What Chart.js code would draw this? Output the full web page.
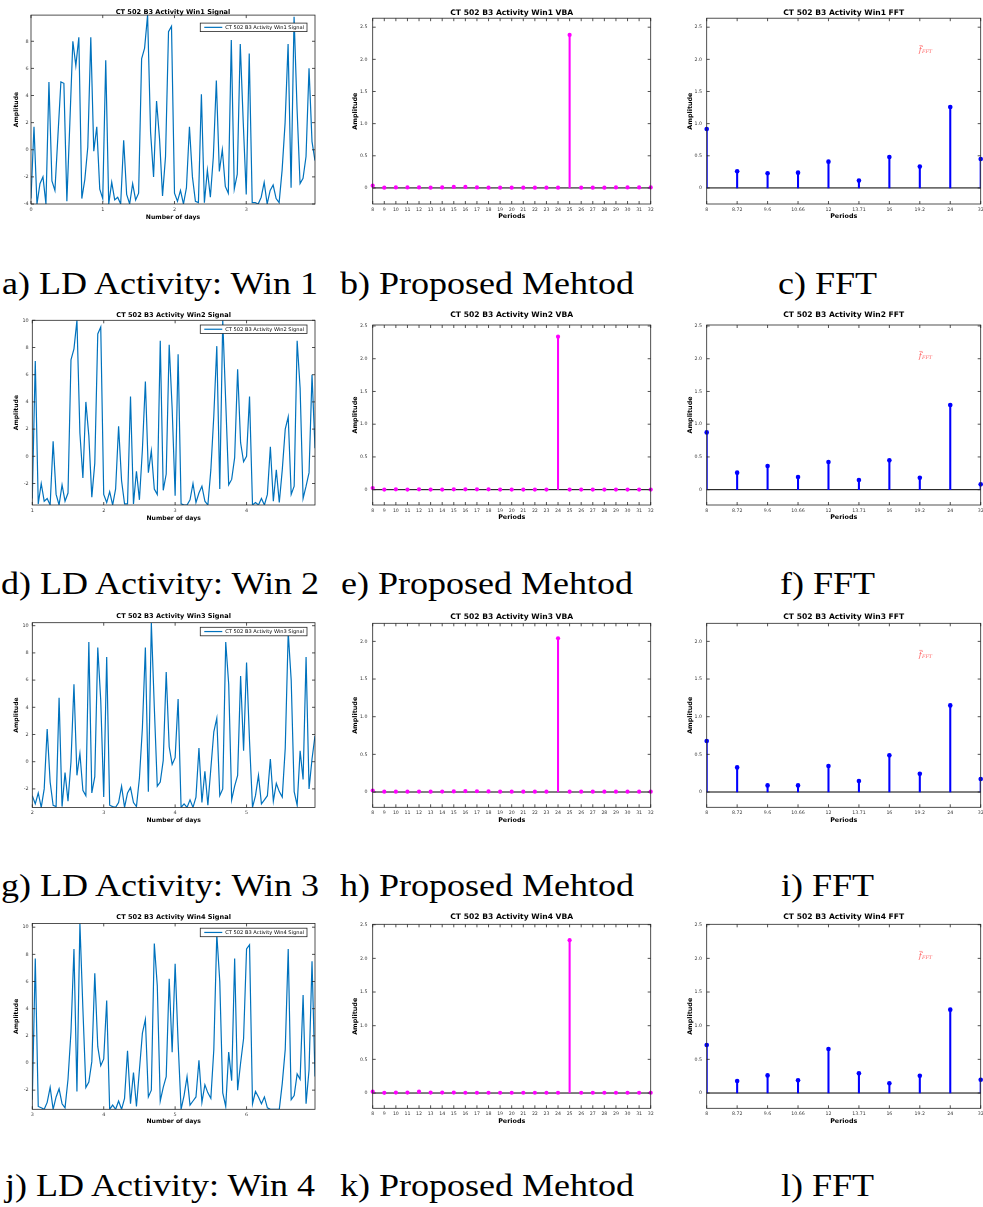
<!DOCTYPE html>
<html>
<head>
<meta charset="utf-8">
<script src="https://cdn.jsdelivr.net/npm/chart.js@4.4.1/dist/chart.umd.min.js"></script>
<style>
  html, body { margin: 0; padding: 0; background: #fff; width: 983px; height: 1207px; overflow: hidden; }
  canvas { position: absolute; }
  .cap { position: absolute; white-space: nowrap; font-family: "Liberation Serif", "Times New Roman", serif;
         font-size: 32px; line-height: 32px; color: #000; transform-origin: 0 0; }
</style>
</head>
<body>
<script>
// ---------------- data ----------------
const windowNames = ['Win1', 'Win2', 'Win3', 'Win4'];
const windowStartDay = [0, 1, 2, 3];
const samplesPerDay = 24;

// hourly LD activity, one array per 4-day window
const signalWin1 = [
  -3.6, 1.7, -4.0, -2.5, -2.0, -4.0, 5.0, -2.3, -3.0, 1.0,
  5.0, 4.9, -3.8, 2.0, 8.0, 6.2, 8.3, -3.6, -2.2, 0.2,
  8.3, -0.1, 1.7, -2.9, -3.6, 6.6, -4.0, -2.4, -3.7, -3.5,
  -4.0, 0.7, -3.3, -4.0, -2.5, -3.7, -3.2, 6.7, 7.5, 9.93,
  1.3, -2.0, 3.6, 0.8, -3.4, -0.5, 8.7, 9.1, -3.2, -3.8,
  -3.0, -4.0, -2.8, 1.7, -2.0, -3.8, -3.9, 4.1, -3.9, -1.5,
  -3.5, -0.5, 5.1, -1.6, 0.0, -2.7, -3.2, 8.1, -2.9, -1.8,
  7.8, 2.0, -3.3, 7.1, -3.9, -3.9, -4.0, -3.5, -2.4, -4.0,
  -3.0, -2.6, -3.6, -3.9, -1.5, 2.0, 7.8, -2.8, 9.8, 3.0,
  -2.5, -2.1, -0.5, 6.0, 0.6, -0.8
];
const signalWin2 = [
  -3.1, 7.0, -3.5, -2.0, -3.3, -3.1, -3.58, 1.1, -2.8, -3.58,
  -2.1, -3.3, -2.7, 7.1, 7.9, 10.0, 1.7, -1.6, 4.0, 1.5,
  -3.0, -0.5, 9.0, 9.5, -2.8, -3.4, -2.6, -3.58, -2.4, 2.2,
  -1.8, -3.5, -3.5, 4.4, -3.5, -1.1, -3.2, 0.5, 5.5, -1.2,
  0.4, -2.4, -2.8, 8.5, -2.5, -1.3, 8.2, 3.5, -2.9, 7.5,
  -3.5, -3.58, -3.58, -3.2, -2.0, -3.4, -2.7, -2.2, -3.3, -3.58,
  -1.0, 3.0, 8.1, -2.4, 10.0, 4.0, -2.1, -1.7, -0.1, 6.4,
  1.0, -0.4, 0.0, 4.4, -3.58, -3.4, -3.58, -3.1, -3.58, -2.8,
  0.7, -3.3, -1.0, -3.4, -1.0, 2.0, 2.9, -2.8, -2.2, 8.5,
  5.0, -3.1, -2.2, -1.2, 6.0, 0.6
];
const signalWin3 = [
  -2.5, -3.1, -2.3, -3.36, -2.0, 2.4, -1.5, -3.2, -3.3, 4.7,
  -3.3, -0.8, -2.9, 0.0, 5.7, -1.0, 0.6, -2.1, -2.5, 8.8,
  -2.3, -1.1, 8.4, 4.5, -2.6, 7.7, -3.2, -3.3, -3.36, -3.0,
  -1.8, -3.36, -2.3, -1.9, -3.0, -3.3, -1.2, 2.5, 8.4, -2.2,
  10.22, 4.0, -1.8, -1.5, 0.1, 6.6, 1.1, -0.2, 0.3, 4.6,
  -3.36, -3.1, -3.36, -2.8, -3.36, -2.6, 1.0, -3.0, -0.7, -3.2,
  -0.5, 2.2, 3.2, -2.5, -2.0, 8.8, 5.7, -2.8, -1.8, -1.0,
  6.3, 0.8, 7.3, 1.5, -3.36, -2.5, -1.0, -3.1, -2.8, -2.5,
  0.2, -2.9, -1.6, -2.2, -2.6, 1.0, 9.5, 6.0, -2.2, -3.2,
  0.8, -1.3, 7.7, -2.0, 0.2, 1.9
];
const signalWin4 = [
  -2.7, 7.7, -3.2, -3.3, -3.41, -2.9, -1.8, -3.41, -2.5, -1.9,
  -3.0, -3.3, -1.2, 2.3, 8.4, -2.1, 10.28, 4.0, -1.8, -1.4,
  0.1, 6.6, 1.2, -0.2, 0.3, 4.6, -3.41, -3.1, -3.41, -2.8,
  -3.41, -2.6, 0.9, -3.0, -0.7, -3.2, -0.5, 2.2, 3.2, -2.5,
  -2.0, 8.8, 5.7, -2.8, -1.8, -1.0, 6.2, 0.8, 7.3, 1.5,
  -3.41, -2.4, -1.0, -3.1, -2.8, -2.5, 0.2, -2.9, -1.6, -2.2,
  -2.6, 1.0, 9.5, 6.0, -2.2, -3.2, 0.8, -1.3, 7.7, -2.0,
  0.0, 1.8, 8.4, 8.7, -3.0, -2.1, -2.5, -3.0, -2.5, -3.3,
  -3.41, -3.41, -3.41, -3.41, -1.5, 1.0, 8.4, -2.7, -2.4, -0.8,
  -1.2, 5.0, -3.0, -0.5, 7.5, -1.0
];

// VBA amplitude per candidate period (hours)
const vbaPeriods = [8, 9, 10, 11, 12, 13, 14, 15, 16, 17, 18, 19, 20, 21, 22, 23, 24, 25, 26, 27, 28, 29, 30, 31, 32];
const vbaWin1 = [0.035, 0.004, 0.008, 0.008, 0.008, 0.004, 0.008, 0.015, 0.015, 0.008, 0.004, 0.004, 0.004,
                 0.004, 0.004, 0.004, 0.004, 2.38, 0.004, 0.004, 0.004, 0.008, 0.008, 0.008, 0.008];
const vbaWin2 = [0.025, 0.002, 0.005, 0.002, 0.005, 0.002, 0.002, 0.005, 0.006, 0.006, 0.006, 0.002, 0.002,
                 0.002, 0.002, 0.002, 2.336, 0.002, 0.002, 0.002, 0.002, 0.002, 0.002, 0.002, 0.002];
const vbaWin3 = [0.02, 0.004, 0.005, 0.004, 0.006, 0.004, 0.006, 0.008, 0.012, 0.01, 0.008, 0.004, 0.004,
                 0.004, 0.004, 0.004, 2.04, 0.004, 0.004, 0.004, 0.004, 0.004, 0.004, 0.004, 0.004];
const vbaWin4 = [0.02, 0.003, 0.006, 0.006, 0.02, 0.006, 0.006, 0.006, 0.004, 0.004, 0.004, 0.004, 0.004,
                 0.004, 0.004, 0.004, 0.004, 2.27, 0.004, 0.004, 0.004, 0.004, 0.004, 0.004, 0.004];

// FFT amplitude at the DFT bin periods (hours)
const fftPeriods = ['8', '8.72', '9.6', '10.66', '12', '13.71', '16', '19.2', '24', '32'];
const fftWin1 = [0.917, 0.259, 0.228, 0.238, 0.409, 0.114, 0.482, 0.332, 1.259, 0.45];
const fftWin2 = [0.875, 0.26, 0.361, 0.193, 0.422, 0.148, 0.448, 0.183, 1.293, 0.081];
const fftWin3 = [0.677, 0.327, 0.088, 0.088, 0.345, 0.146, 0.487, 0.243, 1.15, 0.173];
const fftWin4 = [0.713, 0.178, 0.262, 0.188, 0.653, 0.292, 0.144, 0.257, 1.238, 0.198];

// shared amplitude axis limits of the VBA / FFT panels in each row
const ampLimits = [[-0.25, 2.64], [-0.234, 2.515], [-0.203, 2.24], [-0.227, 2.506]];

const captionText = [
  'a) LD Activity: Win 1', 'b) Proposed Mehtod', 'c) FFT',
  'd) LD Activity: Win 2', 'e) Proposed Mehtod', 'f) FFT',
  'g) LD Activity: Win 3', 'h) Proposed Mehtod', 'i) FFT',
  'j) LD Activity: Win 4', 'k) Proposed Mehtod', 'l) FFT'
];

// ---------------- page layout (px) ----------------
const signals = [signalWin1, signalWin2, signalWin3, signalWin4];
const vbas = [vbaWin1, vbaWin2, vbaWin3, vbaWin4];
const ffts = [fftWin1, fftWin2, fftWin3, fftWin4];

const FONT = '"DejaVu Sans", "Liberation Sans", sans-serif';
const TICK_COLOR = '#3a3a3a';
const SIGNAL_BLUE = '#0072BD';
const VBA_MAGENTA = '#FF00FF';
const FFT_BLUE = '#0000FF';

const sigRows = [
  { top: 0,   T: 15.1,  B: 204,    L: 31,   titleY: 12.3,  tickY: 210,   xlabY: 217.3,  legDy: 8 },
  { top: 305, T: 320.3, B: 505,    L: 32.3, titleY: 315.2, tickY: 511,   xlabY: 518.3,  legDy: 4.7 },
  { top: 605, T: 622.7, B: 807.4,  L: 32.3, titleY: 616.5, tickY: 812.8, xlabY: 820,    legDy: 4.6 },
  { top: 905, T: 923.4, B: 1109.3, L: 32.3, titleY: 917,   tickY: 1115,  xlabY: 1121.8, legDy: 4.8 }
];
const stemRows = [
  { top: 0,   T: 18.2,  B: 204,    titleY: 13.3,  tickY: 209.3, xlabY: 216.7 },
  { top: 305, T: 325,   B: 505,    titleY: 315,   tickY: 511,   xlabY: 517.7 },
  { top: 605, T: 623.3, B: 807.3,  titleY: 616.7, tickY: 812.7, xlabY: 820 },
  { top: 905, T: 924.3, B: 1108.3, titleY: 917.3, tickY: 1114,  xlabY: 1121.7 }
];
const sigCol = { x: 0,   w: 330, R: 315,   yTickX: 28.6,  ylabX: 16.7 };
const vbaCol = { x: 340, w: 320, L: 372.7, R: 650.7, yTickX: 367.5, ylabX: 355.3 };
const fftCol = { x: 676, w: 307, L: 706.7, R: 982.3, yTickX: 702,   ylabX: 690 };

const sigFont = { title: 6.6, label: 6.1, tick: 4.9, legend: 5.1 };
const stemFont = { title: 7.6, label: 6.4, tick: 4.7 };

const captionCenterX = [160, 487, 828];
const captionCenterY = [283, 583, 885, 1185];
const captionRefWidth = 316;

// ---------------- plugins ----------------
// MATLAB-style box with inward tick marks on all four sides
const boxFrame = {
  id: 'boxFrame',
  afterDatasetsDraw(chart) {
    const { ctx, chartArea: a, scales: { x, y } } = chart;
    const t = 3;
    ctx.save();
    ctx.strokeStyle = '#262626';
    ctx.lineWidth = 0.8;
    ctx.strokeRect(a.left, a.top, a.right - a.left, a.bottom - a.top);
    ctx.beginPath();
    x.ticks.forEach((tk, i) => {
      const px = x.getPixelForTick(i);
      ctx.moveTo(px, a.bottom); ctx.lineTo(px, a.bottom - t);
      ctx.moveTo(px, a.top); ctx.lineTo(px, a.top + t);
    });
    y.ticks.forEach((tk, i) => {
      const py = y.getPixelForTick(i);
      ctx.moveTo(a.left, py); ctx.lineTo(a.left + t, py);
      ctx.moveTo(a.right, py); ctx.lineTo(a.right - t, py);
    });
    ctx.stroke();
    ctx.restore();
  }
};

// stem baseline at zero amplitude
const stemBaseline = {
  id: 'stemBaseline',
  beforeDatasetsDraw(chart) {
    const { ctx, chartArea: a, scales: { y } } = chart;
    const py = y.getPixelForValue(0);
    ctx.save();
    ctx.strokeStyle = '#000';
    ctx.lineWidth = 1;
    ctx.beginPath();
    ctx.moveTo(a.left, py); ctx.lineTo(a.right, py);
    ctx.stroke();
    ctx.restore();
  }
};

// boxed legend in the upper right corner of the signal panels
const signalLegend = {
  id: 'signalLegend',
  afterDraw(chart, args, o) {
    const ds = chart.data.datasets[0];
    const { ctx, chartArea: a } = chart;
    ctx.save();
    ctx.font = `${o.size}px ${FONT}`;
    const tw = ctx.measureText(ds.label).width;
    const h = 8.5, sample = 18, gap = 3, padL = 4, padR = 3;
    const w = padL + sample + gap + tw + padR;
    const x0 = a.right - 8 - w, y0 = a.top + o.dy;
    ctx.fillStyle = '#fff';
    ctx.fillRect(x0, y0, w, h);
    ctx.strokeStyle = '#262626';
    ctx.lineWidth = 0.8;
    ctx.strokeRect(x0, y0, w, h);
    ctx.strokeStyle = ds.borderColor;
    ctx.lineWidth = ds.borderWidth;
    ctx.beginPath();
    ctx.moveTo(x0 + padL, y0 + h / 2); ctx.lineTo(x0 + padL + sample, y0 + h / 2);
    ctx.stroke();
    ctx.fillStyle = '#000';
    ctx.textBaseline = 'middle';
    ctx.fillText(ds.label, x0 + padL + sample + gap, y0 + h / 2 + 0.3);
    ctx.restore();
  }
};

// red f_FFT annotation of the FFT panels
const fftNote = {
  id: 'fftNote',
  afterDatasetsDraw(chart, args, o) {
    const { ctx, chartArea: a, scales: { x } } = chart;
    const px = x.getPixelForValue(o.at) - 1;
    const py = a.top + o.frac * (a.bottom - a.top);
    ctx.save();
    ctx.fillStyle = o.color;
    ctx.strokeStyle = o.color;
    ctx.textBaseline = 'middle';
    ctx.font = `italic ${o.size}px "DejaVu Serif", serif`;
    ctx.fillText('f', px, py);
    const fw = ctx.measureText('f').width;
    ctx.lineWidth = 0.6;
    ctx.beginPath();
    ctx.moveTo(px + 0.5, py - o.size * 0.52); ctx.lineTo(px + fw + 0.8, py - o.size * 0.52);
    ctx.stroke();
    ctx.font = `italic ${o.size * 0.62}px "DejaVu Serif", serif`;
    ctx.fillText('FFT', px + fw + 0.2, py + o.size * 0.22);
    ctx.restore();
  }
};

// ---------------- chart helpers ----------------
function makeCanvas(box) {
  const c = document.createElement('canvas');
  c.width = box.w; c.height = box.h;
  c.style.left = box.x + 'px'; c.style.top = box.y + 'px';
  c.style.width = box.w + 'px'; c.style.height = box.h + 'px';
  document.body.appendChild(c);
  return c;
}

function panelOptions(box, g, f, title, xTitle) {
  const noGrid = { display: false, drawTicks: false, tickLength: 0 };
  return {
    responsive: false, maintainAspectRatio: false, animation: false, events: [],
    devicePixelRatio: 1,
    layout: { padding: { left: 0, top: 0, bottom: 0, right: box.x + box.w - g.R } },
    plugins: {
      legend: { display: false },
      tooltip: { enabled: false },
      title: {
        display: true, text: title, fullSize: false, color: '#000',
        font: { family: FONT, size: f.title, weight: 'bold', lineHeight: 1 },
        padding: { top: g.titleY - box.y - f.title / 2, bottom: g.T - g.titleY - f.title / 2 }
      }
    },
    scales: {
      x: {
        grid: Object.assign({}, noGrid), border: { display: false },
        ticks: { color: TICK_COLOR, font: { family: FONT, size: f.tick, lineHeight: 1 },
                 padding: g.tickY - g.B - f.tick / 2, maxRotation: 0, minRotation: 0, autoSkip: false },
        title: { display: true, text: xTitle, color: '#000',
                 font: { family: FONT, size: f.label, weight: 'bold', lineHeight: 1 },
                 padding: { top: 0, bottom: box.y + box.h - g.xlabY - f.label / 2 } },
        afterFit(s) { s.height = box.y + box.h - g.B; s.paddingLeft = 0; s.paddingRight = 0; }
      },
      y: {
        grid: Object.assign({}, noGrid), border: { display: false },
        ticks: { color: TICK_COLOR, font: { family: FONT, size: f.tick, lineHeight: 1 },
                 padding: g.L - g.yTickX },
        title: { display: true, text: 'Amplitude', color: '#000',
                 font: { family: FONT, size: f.label, weight: 'bold', lineHeight: 1 },
                 padding: { top: g.ylabX - box.x - f.label / 2, bottom: 0 } },
        afterFit(s) { s.width = g.L - box.x; s.paddingTop = 0; s.paddingBottom = 0; }
      }
    }
  };
}

function signalChart(r) {
  const row = sigRows[r];
  const values = signals[r];
  const start = windowStartDay[r];
  const box = { x: sigCol.x, y: row.top, w: sigCol.w, h: Math.round(row.xlabY + 6.5 - row.top) };
  const g = Object.assign({}, sigCol, row);
  const opts = panelOptions(box, g, sigFont, `CT 502 B3 Activity ${windowNames[r]} Signal`, 'Number of days');
  const points = values.map((v, i) => ({ x: start + i / samplesPerDay, y: v }));
  Object.assign(opts.scales.x, {
    type: 'linear', min: start, max: start + (values.length - 1) / samplesPerDay
  });
  opts.scales.x.ticks.stepSize = 1;
  opts.scales.x.ticks.includeBounds = false;
  Object.assign(opts.scales.y, { type: 'linear', min: Math.min(...values), max: Math.max(...values) });
  opts.scales.y.ticks.stepSize = 2;
  opts.scales.y.ticks.includeBounds = false;
  opts.plugins.signalLegend = { size: sigFont.legend, dy: row.legDy };
  new Chart(makeCanvas(box), {
    type: 'line',
    data: { datasets: [{
      label: `CT 502 B3 Activity ${windowNames[r]} Signal`,
      data: points, borderColor: SIGNAL_BLUE, borderWidth: 1.2,
      pointRadius: 0, tension: 0, fill: false
    }] },
    options: opts,
    plugins: [boxFrame, signalLegend]
  });
}

function stemChart(r, col, labels, values, color, title, radius, withNote) {
  const row = stemRows[r];
  const box = { x: col.x, y: row.top, w: col.w, h: Math.round(row.xlabY + 6.5 - row.top) };
  const g = Object.assign({}, col, row);
  const opts = panelOptions(box, g, stemFont, title, 'Periods');
  Object.assign(opts.scales.x, { type: 'category', offset: false });
  Object.assign(opts.scales.y, { type: 'linear', min: ampLimits[r][0], max: ampLimits[r][1] });
  opts.scales.y.ticks.stepSize = 0.5;
  opts.scales.y.ticks.includeBounds = false;
  const plugins = [stemBaseline, boxFrame];
  if (withNote) {
    opts.plugins.fftNote = { at: 7, frac: 0.17, size: 8, color: '#ff6464' };
    plugins.push(fftNote);
  }
  new Chart(makeCanvas(box), {
    type: 'bar',
    data: {
      labels: labels,
      datasets: [
        { type: 'line', data: values, showLine: false, pointRadius: radius, pointHoverRadius: radius,
          pointBackgroundColor: color, pointBorderWidth: 0, clip: false, order: 0 },
        { type: 'bar', data: values, backgroundColor: color, barThickness: 1.4, order: 1 }
      ]
    },
    options: opts,
    plugins: plugins
  });
}

// ---------------- build ----------------
for (let r = 0; r < 4; r++) {
  signalChart(r);
  stemChart(r, vbaCol, vbaPeriods, vbas[r], VBA_MAGENTA, `CT 502 B3 Activity ${windowNames[r]} VBA`, 2.1, false);
  stemChart(r, fftCol, fftPeriods, ffts[r], FFT_BLUE, `CT 502 B3 Activity ${windowNames[r]} FFT`, 2.3, true);
}

// sub-figure captions
(function () {
  const probe = document.createElement('div');
  probe.className = 'cap';
  probe.textContent = captionText[0];
  document.body.appendChild(probe);
  const k = captionRefWidth / probe.getBoundingClientRect().width;
  probe.remove();
  captionText.forEach((txt, i) => {
    const d = document.createElement('div');
    d.className = 'cap';
    d.textContent = txt;
    document.body.appendChild(d);
    const w = d.getBoundingClientRect().width * k;
    d.style.transform = `scaleX(${k})`;
    d.style.left = (captionCenterX[i % 3] - w / 2) + 'px';
    d.style.top = (captionCenterY[Math.floor(i / 3)] - 16) + 'px';
  });
})();
</script>
</body>
</html>
